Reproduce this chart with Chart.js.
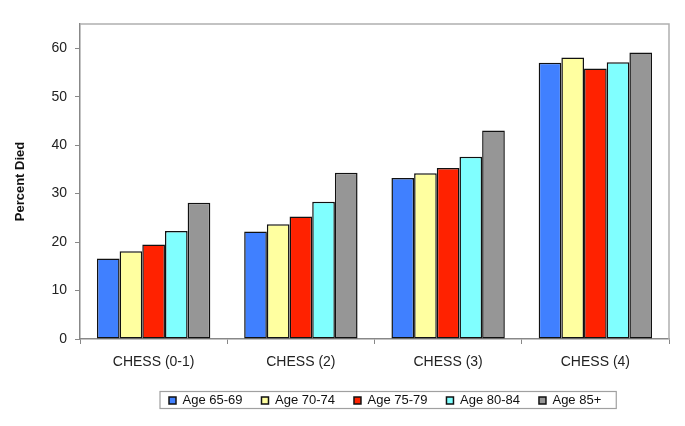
<!DOCTYPE html>
<html>
<head>
<meta charset="utf-8">
<script src="https://cdn.jsdelivr.net/npm/chart.js@4"></script>
<style>
  html, body { margin: 0; padding: 0; background: #fff; }
  #wrap { width: 685px; height: 426px; }
</style>
</head>
<body>
<div id="wrap"><canvas id="chart"></canvas></div>
<script>
var categories = ['CHESS (0-1)', 'CHESS (2)', 'CHESS (3)', 'CHESS (4)'];
var seriesNames = ['Age 65-69', 'Age 70-74', 'Age 75-79', 'Age 80-84', 'Age 85+'];
var age6569 = [16.6, 22.2, 33.2, 57.0];
var age7074 = [18.1, 23.7, 34.2, 58.1];
var age7579 = [19.5, 25.3, 35.3, 55.8];
var age8084 = [22.3, 28.3, 37.6, 57.1];
var age85 = [28.1, 34.3, 43.0, 59.1];
var seriesColors = ['#4080ff', '#ffffa0', '#ff2200', '#80ffff', '#969696'];
var yTicks = [0, 10, 20, 30, 40, 50, 60];

(function() {
    'use strict';

    var font = 'Arial, "Liberation Sans", sans-serif';
    var values = [age6569, age7074, age7579, age8084, age85];

    // frame on the top and right of the plot area, plus the legend box
    var framePlugin = {
        id: 'frame',
        afterUpdate: function(chart) {
            var lg = chart.legend;
            if (!lg || !lg.legendHitBoxes.length) return;
            var delta = 169 - lg.legendHitBoxes[0].left;
            lg.left += delta;
            lg.right += delta;
            lg.legendHitBoxes.forEach(function(hb) { hb.left += delta; });
        },
        afterDraw: function(chart) {
            var ctx = chart.ctx;
            var a = chart.chartArea;
            ctx.save();
            ctx.strokeStyle = '#b0b0b0';
            ctx.lineWidth = 1.5;
            ctx.beginPath();
            ctx.moveTo(a.left, a.top);
            ctx.lineTo(a.right, a.top);
            ctx.lineTo(a.right, a.bottom);
            ctx.stroke();

            var lg = chart.legend;
            if (lg && lg.legendHitBoxes.length) {
                var boxes = lg.legendHitBoxes;
                var first = boxes[0];
                var last = boxes[boxes.length - 1];
                var cy = first.top + first.height / 2;
                var x0 = first.left - 9;
                var x1 = last.left + last.width + 15;
                ctx.strokeStyle = '#a0a0a0';
                ctx.lineWidth = 1.2;
                ctx.strokeRect(x0, cy - 9, x1 - x0, 17);
            }
            ctx.restore();
        }
    };

    var ctx = document.getElementById('chart').getContext('2d');
    new Chart(ctx, {
        type: 'bar',
        data: {
            labels: categories,
            datasets: seriesNames.map(function(name, i) {
                return {
                    label: name,
                    data: values[i],
                    backgroundColor: seriesColors[i],
                    borderColor: '#111',
                    borderWidth: 1.5,
                    borderSkipped: false,
                    categoryPercentage: 0.77,
                    barPercentage: 1.0
                };
            })
        },
        options: {
            responsive: true,
            maintainAspectRatio: false,
            animation: false,
            layout: { padding: { left: 0, right: 16, top: 24, bottom: 9 } },
            plugins: {
                tooltip: { enabled: false },
                legend: {
                    position: 'bottom',
                    labels: {
                        boxWidth: 7,
                        boxHeight: 7,
                        padding: 19,
                        color: '#111',
                        font: { family: font, size: 13 }
                    }
                }
            },
            scales: {
                x: {
                    afterFit: function(scale) { scale.height = 36; },
                    grid: { display: true, drawOnChartArea: false, drawTicks: true, tickLength: 5, color: '#888', offset: true },
                    border: { color: '#888', width: 1.5 },
                    ticks: { color: '#222', padding: 10, font: { family: font, size: 14 } }
                },
                y: {
                    min: 0,
                    max: 65,
                    afterFit: function(scale) { scale.width = 80; },
                    afterBuildTicks: function(scale) {
                        scale.ticks = yTicks.map(function(v) { return { value: v }; });
                    },
                    grid: { display: true, drawOnChartArea: false, drawTicks: true, tickLength: 5, color: '#888' },
                    border: { color: '#888', width: 1.5 },
                    ticks: { color: '#222', padding: 8, font: { family: font, size: 14 } },
                    title: {
                        display: true,
                        text: 'Percent Died',
                        color: '#111',
                        padding: { top: 13, bottom: 0 },
                        font: { family: font, size: 13, weight: 'bold' }
                    }
                }
            }
        },
        plugins: [framePlugin]
    });
})();
</script>
</body>
</html>
